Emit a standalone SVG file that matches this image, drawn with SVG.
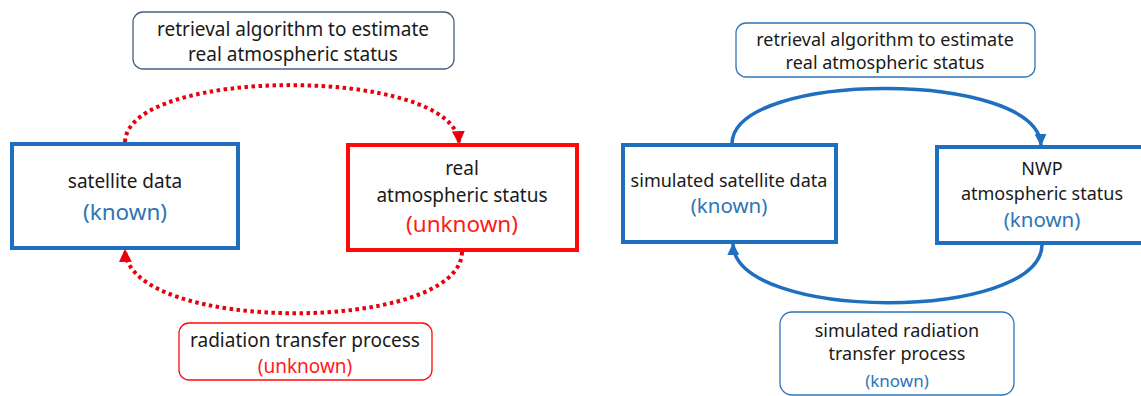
<svg xmlns="http://www.w3.org/2000/svg" width="1141" height="396" viewBox="0 0 1141 396">
<defs>
<style>
text{font-family:"Noto Sans","Open Sans","Liberation Sans",sans-serif;fill:#1a1a1a;text-anchor:middle;font-size:19px}
.r{font-size:18px}
.big{font-size:22.5px}
.mid{font-size:20.5px}
.kn{fill:#2e75b6}
.un{fill:#ff1a1a}
.node{fill:#fff;stroke-width:4}
.blue{stroke:#1f6fbf}
.red{stroke:#ff0a0a}
.lbl{fill:#fff;stroke-width:1.3}
.red-dot{fill:none;stroke:#e8000e;stroke-width:4;stroke-dasharray:3.5 3.5}
.blue-line{fill:none;stroke:#1f6fbf;stroke-width:3.5}
</style>
<marker id="ar" viewBox="0 0 12 12" refX="11" refY="6" markerWidth="13" markerHeight="13" markerUnits="userSpaceOnUse" orient="auto"><path d="M0,0 L12,6 L0,12 z" fill="#e8000e"/></marker>
<marker id="ab" viewBox="0 0 12 12" refX="11" refY="6" markerWidth="12" markerHeight="12" markerUnits="userSpaceOnUse" orient="auto"><path d="M0,0 L12,6 L0,12 z" fill="#1f6fbf"/></marker>
</defs>
<g id="connectors">
<path class="red-dot" d="M125,142 C128,66 455,66 459,143" marker-end="url(#ar)"/>
<path class="red-dot" d="M462,252 C460,334 128,334 125,250" marker-end="url(#ar)"/>
<path class="blue-line" d="M732,143 C735,70 1038,70 1041,145" marker-end="url(#ab)"/>
<path class="blue-line" d="M1042,245 C1040,322 735,322 733,244" marker-end="url(#ab)"/>
</g>
<g id="label-retrieval-left">
<rect class="lbl" x="133" y="12" width="321" height="57" rx="10" stroke="#4a5f80"/>
<text x="293" y="36">retrieval algorithm to estimate</text>
<text x="293" y="61">real atmospheric status</text>
</g>
<g id="node-satellite">
<rect class="node blue" x="12" y="144" width="226" height="104"/>
<text x="125" y="188">satellite data</text>
<text class="big kn" x="125" y="220">(known)</text>
</g>
<g id="node-real">
<rect class="node red" x="348" y="145" width="229" height="105"/>
<text x="462" y="175">real</text>
<text x="462" y="202">atmospheric status</text>
<text class="big un" x="462" y="232">(unknown)</text>
</g>
<g id="label-radiation-left">
<rect class="lbl" x="179" y="323" width="253" height="57" rx="10" stroke="#ff0a0a"/>
<text x="305" y="347">radiation transfer process</text>
<text class="un" x="305" y="373">(unknown)</text>
</g>
<g id="label-retrieval-right">
<rect class="lbl" x="736" y="23" width="299" height="54" rx="10" stroke="#2e75b6"/>
<text class="r" x="885" y="46">retrieval algorithm to estimate</text>
<text class="r" x="885" y="69">real atmospheric status</text>
</g>
<g id="node-simulated">
<rect class="node blue" x="623" y="145" width="213" height="97"/>
<text class="r" x="729" y="187">simulated satellite data</text>
<text class="mid kn" x="729" y="213">(known)</text>
</g>
<g id="node-nwp">
<rect class="node blue" x="937" y="147" width="212" height="96"/>
<text class="r" x="1042" y="175">NWP</text>
<text class="r" x="1042" y="200">atmospheric status</text>
<text class="mid kn" x="1042" y="227">(known)</text>
</g>
<g id="label-radiation-right">
<rect class="lbl" x="780" y="312" width="234" height="83" rx="12" stroke="#2e75b6"/>
<text class="r" x="897" y="337">simulated radiation</text>
<text class="r" x="897" y="360">transfer process</text>
<text class="kn" x="897" y="387" style="font-size:17px">(known)</text>
</g>
</svg>
